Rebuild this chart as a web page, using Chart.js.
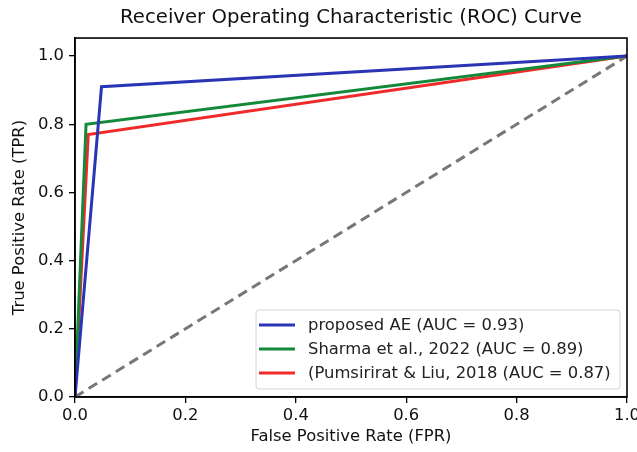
<!DOCTYPE html>
<html><head><meta charset="utf-8">
<script src="https://cdn.jsdelivr.net/npm/chart.js@4"></script>
<style>html,body{margin:0;padding:0;background:#fff}#wrap{width:637px;height:452px}</style>
</head><body><div id="wrap"><canvas id="c" width="637" height="452"></canvas></div>
<script>
const seriesNames = ["proposed AE (AUC = 0.93)", "Sharma et al., 2022 (AUC = 0.89)", "(Pumsirirat & Liu, 2018 (AUC = 0.87)"];
const blueFPR = [0, 0.048, 1];
const blueTPR = [0, 0.91, 1];
const greenFPR = [0, 0.02, 1];
const greenTPR = [0, 0.80, 1];
const redFPR = [0, 0.024, 1];
const redTPR = [0, 0.77, 1];
const chanceFPR = [0, 1];
const chanceTPR = [0, 1];
const xTicks = [0, 0.2, 0.4, 0.6, 0.8, 1.0];
const yTicks = [0, 0.2, 0.4, 0.6, 0.8, 1.0];

const pts = (xs, ys) => xs.map((x, i) => ({x, y: ys[i]}));
const FONT = "'DejaVu Sans', sans-serif";
const FS = 16.4;

const boxPlugin = {
  id: 'box',
  afterDatasetsDraw(chart) {
    const {ctx, chartArea: a} = chart;
    ctx.save();
    ctx.strokeStyle = '#000'; ctx.lineWidth = 1.6;
    ctx.strokeRect(a.left, a.top, a.right - a.left, a.bottom - a.top);
    ctx.restore();
  }
};
const legendPlugin = {
  id: 'inlegend',
  afterDraw(chart) {
    const {ctx, chartArea: a} = chart;
    const items = chart.data.datasets.filter(d => d.label);
    ctx.save();
    ctx.font = FS + "px " + FONT;
    const w = 364, lh = 24, h = 79;
    const x0 = a.right - 7 - w, y0 = a.bottom - 8 - h;
    ctx.fillStyle = 'rgba(255,255,255,0.85)';
    ctx.strokeStyle = '#d4d4d4'; ctx.lineWidth = 1;
    ctx.beginPath();
    ctx.roundRect(x0, y0, w, h, 3);
    ctx.fill(); ctx.stroke();
    items.forEach((d, i) => {
      const cy = y0 + 15 + lh * i;
      ctx.strokeStyle = d.borderColor; ctx.lineWidth = 3;
      ctx.beginPath(); ctx.moveTo(x0 + 3, cy); ctx.lineTo(x0 + 39, cy); ctx.stroke();
      ctx.fillStyle = '#222'; ctx.textBaseline = 'middle'; ctx.textAlign = 'left';
      ctx.fillText(d.label, x0 + 52, cy + 1);
    });
    ctx.restore();
  }
};

new Chart(document.getElementById('c'), {
  type: 'scatter',
  data: {
    datasets: [
      {label: seriesNames[0], data: pts(blueFPR, blueTPR), borderColor: '#2a35b5', showLine: true, borderWidth: 3, pointRadius: 0, tension: 0},
      {label: seriesNames[1], data: pts(greenFPR, greenTPR), borderColor: '#15893a', showLine: true, borderWidth: 3, pointRadius: 0, tension: 0},
      {label: seriesNames[2], data: pts(redFPR, redTPR), borderColor: '#f02a2a', showLine: true, borderWidth: 3, pointRadius: 0, tension: 0},
      {label: '', data: pts(chanceFPR, chanceTPR), borderColor: '#777', borderDash: [10, 6], showLine: true, borderWidth: 3, pointRadius: 0}
    ]
  },
  options: {
    responsive: false, animation: false,
    layout: {padding: {left: 0, right: 10, top: 0, bottom: 0}},
    plugins: {
      legend: {display: false}, tooltip: {enabled: false},
      title: {display: true, fullSize: false, text: 'Receiver Operating Characteristic (ROC) Curve', color: '#111', font: {family: FONT, size: 19.7, weight: 'normal'}, padding: {top: 6, bottom: 8.4}}
    },
    scales: {
      x: {type: 'linear', min: 0, max: 1,
        afterBuildTicks: s => { s.ticks = xTicks.map(v => ({value: v})); },
        afterFit: s => { s.height = 55; s.paddingLeft = 0; s.paddingRight = 0; },
        ticks: {color: '#111', font: {family: FONT, size: FS}, padding: 3, maxRotation: 0, callback: v => v.toFixed(1)},
        grid: {drawOnChartArea: false, drawTicks: true, tickLength: 6, color: '#000', lineWidth: 1.3},
        border: {display: true, color: '#000', width: 1.6},
        title: {display: true, text: 'False Positive Rate (FPR)', color: '#111', font: {family: FONT, size: FS}, padding: {top: 5, bottom: 5}}
      },
      y: {type: 'linear', min: 0, max: 1.053,
        afterBuildTicks: s => { s.ticks = yTicks.map(v => ({value: v})); },
        afterFit: s => { s.width = 75; s.paddingTop = 0; s.paddingBottom = 0; },
        ticks: {color: '#111', font: {family: FONT, size: FS}, padding: 5, callback: v => v.toFixed(1)},
        grid: {drawOnChartArea: false, drawTicks: true, tickLength: 6, color: '#000', lineWidth: 1.3},
        border: {display: true, color: '#000', width: 1.6},
        title: {display: true, text: 'True Positive Rate (TPR)', color: '#111', font: {family: FONT, size: FS}, padding: {top: 10, bottom: 4}}
      }
    }
  },
  plugins: [boxPlugin, legendPlugin]
});
</script></body></html>
